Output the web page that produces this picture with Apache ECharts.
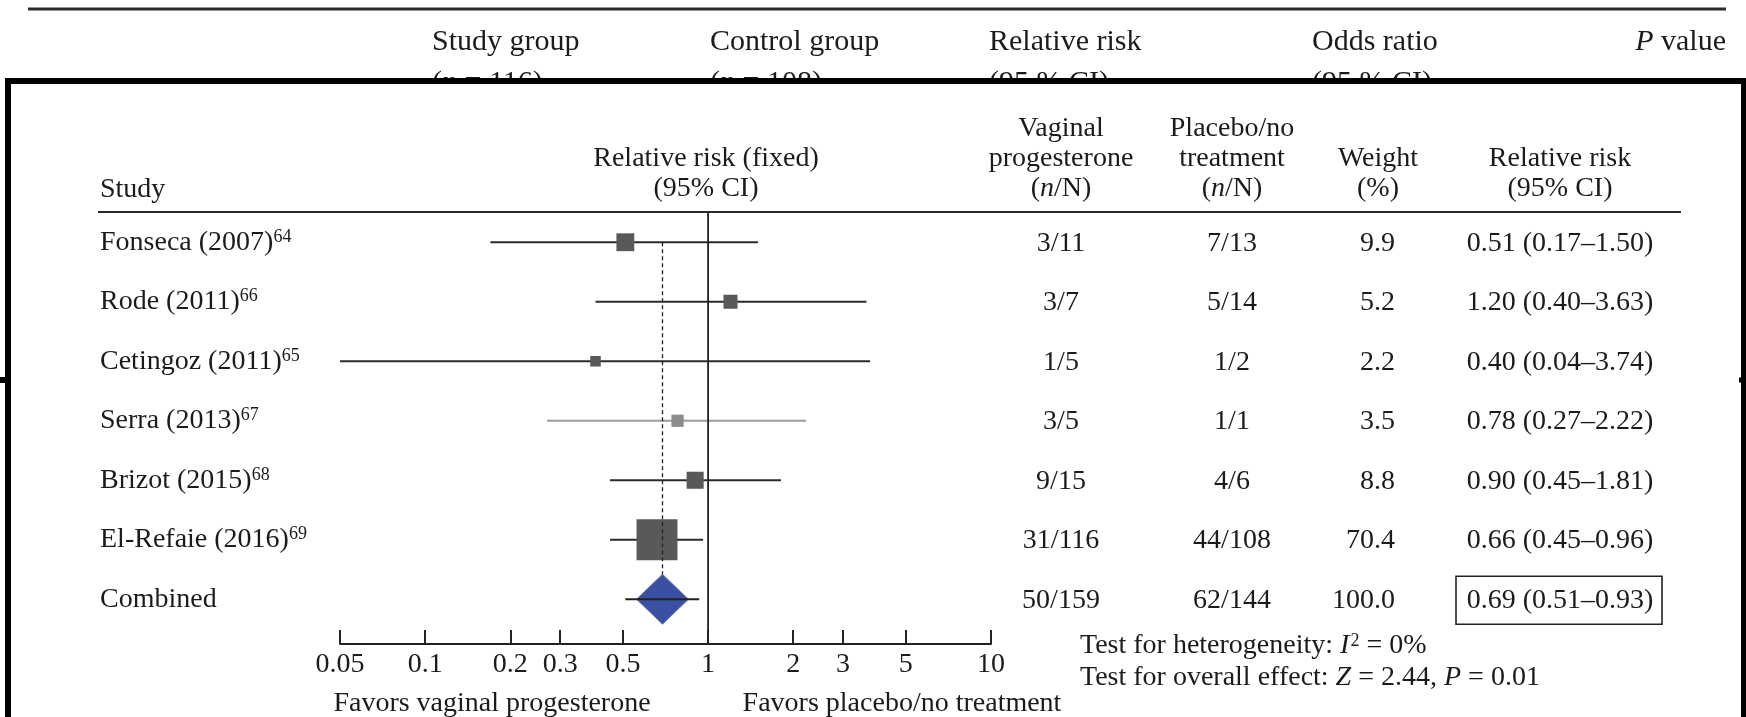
<!DOCTYPE html>
<html><head><meta charset="utf-8">
<script src="https://cdn.jsdelivr.net/npm/echarts@6/dist/echarts.min.js"></script>
<style>html,body{margin:0;padding:0;background:#fff}#c{width:1746px;height:717px}</style>
</head><body><div id="c"></div>
<script>
// ---------------- data ----------------
const studies = ['Fonseca (2007)', 'Rode (2011)', 'Cetingoz (2011)', 'Serra (2013)', 'Brizot (2015)', 'El-Refaie (2016)', 'Combined'];
const refNums = ['64', '66', '65', '67', '68', '69', ''];
const rr = [0.51, 1.20, 0.40, 0.78, 0.90, 0.66, 0.69];
const ciLow = [0.17, 0.40, 0.04, 0.27, 0.45, 0.45, 0.51];
const ciHigh = [1.50, 3.63, 3.74, 2.22, 1.81, 0.96, 0.93];
const weight = [9.9, 5.2, 2.2, 3.5, 8.8, 70.4, 100.0];
const progesteroneN = ['3/11', '3/7', '1/5', '3/5', '9/15', '31/116', '50/159'];
const placeboN = ['7/13', '5/14', '1/2', '1/1', '4/6', '44/108', '62/144'];
const tickValues = [0.05, 0.1, 0.2, 0.3, 0.5, 1, 2, 3, 5, 10];
const tickLabels = ['0.05', '0.1', '0.2', '0.3', '0.5', '1', '2', '3', '5', '10'];
const tableHeadTop = ['Study group', 'Control group', 'Relative risk', 'Odds ratio'];
const tableHeadTop2 = ['({i|n} = 116)', '({i|n} = 108)', '(95 % CI)', '(95 % CI)'];
const footer1 = 'Test for heterogeneity: {i|I}{sup|2} = 0%';
const footer2 = 'Test for overall effect: {i|Z} = 2.44, {i|P} = 0.01';
const favorsLeft = 'Favors vaginal progesterone';
const favorsRight = 'Favors placebo/no treatment';

// ---------------- layout / style ----------------
const FAM = '"Liberation Serif", "Times New Roman", serif';
const FS = 28;
const FONT = FS + 'px ' + FAM;
const HFS = 30;
const HFONT = HFS + 'px ' + FAM;
const TXT = '#1b1b1b';
const X_MIN = tickValues[0], X_MAX = tickValues[tickValues.length - 1];
const AXIS_OFFSET = 15;
const FADED_STUDY = 'Serra (2013)';
const POOLED = studies.length - 1;
const COL_PROG = 1061, COL_PLAC = 1232, COL_W = 1395, COL_RR = 1560;

const f2 = v => v.toFixed(2);
const rrText = rr.map((v, i) => f2(v) + ' (' + f2(ciLow[i]) + '\u2013' + f2(ciHigh[i]) + ')');
const weightText = weight.map(w => w.toFixed(1));
const rows = studies.map((s, i) => [rr[i], i, ciLow[i], ciHigh[i], weight[i]]);

const italicRich = {
  i: {fontStyle: 'italic', fontSize: FS, fontFamily: FAM, fill: TXT},
  sup: {fontSize: 18, fontFamily: FAM, fill: TXT, verticalAlign: 'top', padding: [0, 0, 0, 1]}
};
const headItalic = {i: {fontStyle: 'italic', fontSize: HFS, fontFamily: FAM, fill: TXT}};

function txt(text, x, y, align, opts) {
  opts = opts || {};
  return {
    type: 'text', x: x, y: y, z: opts.z == null ? 5 : opts.z, silent: true,
    style: {
      text: text, font: opts.font || FONT, fill: TXT,
      textAlign: align, align: align, textVerticalAlign: 'middle', verticalAlign: 'middle',
      rich: opts.rich
    }
  };
}

function renderStudy(params, api) {
  const i = api.value(1);
  const y = api.coord([1, i])[1];
  const x0 = api.coord([Math.max(api.value(2), X_MIN), i])[0];
  const x1 = api.coord([Math.min(api.value(3), X_MAX), i])[0];
  const xc = api.coord([api.value(0), i])[0];
  const side = 4 + 4.4 * Math.sqrt(api.value(4));
  const faded = studies[i] === FADED_STUDY;
  return {type: 'group', children: [
    {type: 'line', shape: {x1: x0, y1: y, x2: x1, y2: y}, style: {stroke: faded ? '#9c9c9c' : '#2b2b2b', lineWidth: 2}},
    {type: 'rect', shape: {x: xc - side / 2, y: y - side / 2, width: side, height: side}, style: {fill: faded ? '#8c8c8c' : '#595959'}}
  ]};
}

function renderPooled(params, api) {
  const i = api.value(1);
  const y = api.coord([1, i])[1];
  const xc = api.coord([api.value(0), i])[0];
  const xL = api.coord([api.value(2), i])[0];
  const xR = api.coord([api.value(3), i])[0];
  const yFirst = api.coord([1, 0])[1];
  const xOne = api.coord([1, i])[0];
  const cs = params.coordSys;
  const hw = 26, hh = 25;
  return {type: 'group', children: [
    {type: 'line', shape: {x1: xc, y1: yFirst, x2: xc, y2: y}, style: {stroke: '#222', lineWidth: 1.3, lineDash: [4, 3]}},
    {type: 'line', shape: {x1: xOne, y1: cs.y, x2: xOne, y2: cs.y + cs.height + AXIS_OFFSET}, style: {stroke: '#222', lineWidth: 1.8}},
    {type: 'polygon', shape: {points: [[xc - hw, y], [xc, y - hh], [xc + hw, y], [xc, y + hh]]}, style: {fill: '#3a50a3', stroke: '#7080bb', lineWidth: 1}},
    {type: 'line', shape: {x1: xL, y1: y, x2: xR, y2: y}, style: {stroke: '#222', lineWidth: 2}}
  ]};
}

function cellText(text, x, y, align) {
  return {type: 'text', x: x, y: y, style: {text: text, font: FONT, fill: TXT, textAlign: align, align: align, textVerticalAlign: 'middle', verticalAlign: 'middle'}};
}

function renderTable(params, api) {
  const i = api.value(1);
  const y = api.coord([1, i])[1] + 1;
  const children = [
    cellText(progesteroneN[i], COL_PROG, y, 'center'),
    cellText(placeboN[i], COL_PLAC, y, 'center'),
    cellText(weightText[i], COL_W, y, 'right'),
    cellText(rrText[i], COL_RR, y, 'center')
  ];
  if (i === POOLED) {
    children.push({type: 'rect', shape: {x: 1456, y: y - 24, width: 206, height: 48}, style: {fill: null, stroke: '#222', lineWidth: 1.6}});
  }
  return {type: 'group', children: children};
}

const graphics = [
  {type: 'line', z: 0, shape: {x1: 28, y1: 9, x2: 1726, y2: 9}, style: {stroke: '#2a2a2a', lineWidth: 3}},
  txt(tableHeadTop[0], 432, 42, 'left', {z: 0, font: HFONT}),
  txt(tableHeadTop[1], 710, 42, 'left', {z: 0, font: HFONT}),
  txt(tableHeadTop[2], 989, 42, 'left', {z: 0, font: HFONT}),
  txt(tableHeadTop[3], 1312, 42, 'left', {z: 0, font: HFONT}),
  txt('{i|P} value', 1726, 42, 'right', {z: 0, font: HFONT, rich: headItalic}),
  txt(tableHeadTop2[0], 432, 83, 'left', {z: 0, font: HFONT, rich: headItalic}),
  txt(tableHeadTop2[1], 710, 83, 'left', {z: 0, font: HFONT, rich: headItalic}),
  txt(tableHeadTop2[2], 989, 83, 'left', {z: 0, font: HFONT}),
  txt(tableHeadTop2[3], 1312, 83, 'left', {z: 0, font: HFONT}),
  {type: 'rect', z: 1, silent: true, shape: {x: 5, y: 78, width: 1741, height: 639}, style: {fill: '#fff'}},
  {type: 'line', z: 10, shape: {x1: 8, y1: 78, x2: 8, y2: 717}, style: {stroke: '#000', lineWidth: 6}},
  {type: 'line', z: 10, shape: {x1: 5, y1: 81, x2: 1746, y2: 81}, style: {stroke: '#000', lineWidth: 6}},
  {type: 'line', z: 10, shape: {x1: 1743.5, y1: 78, x2: 1743.5, y2: 717}, style: {stroke: '#000', lineWidth: 5}},
  {type: 'line', z: 10, shape: {x1: 0, y1: 380, x2: 8, y2: 380}, style: {stroke: '#000', lineWidth: 6}},
  {type: 'line', z: 10, shape: {x1: 1739, y1: 380, x2: 1742, y2: 380}, style: {stroke: '#000', lineWidth: 5}},
  // forest plot headers
  txt('Study', 100, 190, 'left'),
  txt('Relative risk (fixed)', 706, 159, 'center'),
  txt('(95% CI)', 706, 189, 'center'),
  txt('Vaginal', COL_PROG, 129, 'center'),
  txt('progesterone', COL_PROG, 159, 'center'),
  txt('({i|n}/N)', COL_PROG, 189, 'center', {rich: italicRich}),
  txt('Placebo/no', COL_PLAC, 129, 'center'),
  txt('treatment', COL_PLAC, 159, 'center'),
  txt('({i|n}/N)', COL_PLAC, 189, 'center', {rich: italicRich}),
  txt('Weight', 1378, 159, 'center'),
  txt('(%)', 1378, 189, 'center'),
  txt('Relative risk', COL_RR, 159, 'center'),
  txt('(95% CI)', COL_RR, 189, 'center'),
  {type: 'line', z: 5, shape: {x1: 98, y1: 212, x2: 1681, y2: 212}, style: {stroke: '#2a2a2a', lineWidth: 2}},
  txt(footer1, 1080, 646, 'left', {rich: italicRich}),
  txt(footer2, 1080, 678, 'left', {rich: italicRich}),
  txt(favorsLeft, 492, 704, 'center'),
  txt(favorsRight, 902, 704, 'center')
];

const chart = echarts.init(document.getElementById('c'));
chart.setOption({
  animation: false,
  backgroundColor: '#fff',
  grid: {left: 340, right: 755, top: 212.5, bottom: 88, containLabel: false},
  xAxis: {
    type: 'log', logBase: 10, min: X_MIN, max: X_MAX, offset: AXIS_OFFSET, z: 5,
    axisLine: {show: true, lineStyle: {color: '#222', width: 2}},
    axisTick: {show: true, inside: true, length: 14, customValues: tickValues, lineStyle: {color: '#222', width: 2}},
    axisLabel: {
      customValues: tickValues, margin: 7, fontSize: FS, fontFamily: FAM, color: TXT,
      formatter: function (v) {
        let best = 0;
        tickValues.forEach((t, k) => { if (Math.abs(Math.log(t) - Math.log(v)) < Math.abs(Math.log(tickValues[best]) - Math.log(v))) best = k; });
        return tickLabels[best];
      }
    },
    splitLine: {show: false}, minorTick: {show: false}
  },
  yAxis: {
    type: 'category', data: studies, inverse: true, z: 5,
    axisLine: {show: false}, axisTick: {show: false}, splitLine: {show: false},
    axisLabel: {
      align: 'left', margin: 240,
      formatter: function (v, idx) { return refNums[idx] ? '{n|' + v + '}{s|' + refNums[idx] + '}' : '{n|' + v + '}'; },
      rich: {
        n: {fontSize: FS, fontFamily: FAM, color: TXT},
        s: {fontSize: 18, fontFamily: FAM, color: TXT, verticalAlign: 'top'}
      }
    }
  },
  graphic: graphics,
  series: [
    {type: 'custom', name: 'studies', z: 3, renderItem: renderStudy, encode: {x: 0, y: 1}, data: rows.slice(0, POOLED)},
    {type: 'custom', name: 'pooled', z: 4, renderItem: renderPooled, encode: {x: 0, y: 1}, data: rows.slice(POOLED)},
    {type: 'custom', name: 'table', z: 4, renderItem: renderTable, encode: {x: 0, y: 1}, data: rows}
  ]
});
</script></body></html>
